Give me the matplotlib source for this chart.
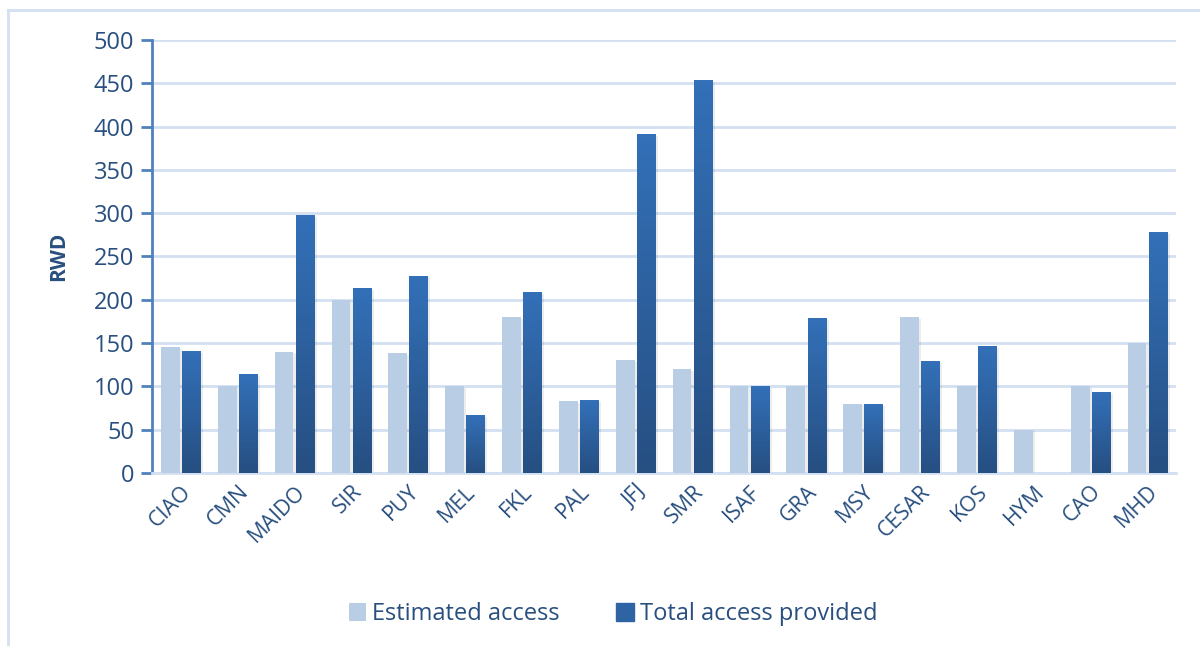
import matplotlib.pyplot as plt
import numpy as np
from matplotlib.patches import Rectangle
from matplotlib.lines import Line2D
from matplotlib.colors import LinearSegmentedColormap

stations = ['CIAO', 'CMN', 'MAIDO', 'SIR', 'PUY', 'MEL', 'FKL', 'PAL', 'JFJ',
            'SMR', 'ISAF', 'GRA', 'MSY', 'CESAR', 'KOS', 'HYM', 'CAO', 'MHD']
estimated = [145, 100, 140, 200, 138, 100, 180, 83, 130,
             120, 100, 100, 80, 180, 100, 50, 100, 150]
total = [141, 114, 298, 213, 228, 67, 209, 84, 391,
         454, 100, 179, 79, 129, 146, 0, 93, 278]

txt = '#284F7F'
plt.rcParams['font.family'] = ['Open Sans', 'DejaVu Sans']

fig = plt.figure(figsize=(12, 6.46), dpi=100)
ax = fig.add_axes([0.127, 0.268, 0.853, 0.67])

x = np.arange(len(stations))
w = 0.33
off = 0.185

dark = LinearSegmentedColormap.from_list('d', ['#264F82', '#3370B8'])
grad = np.linspace(0, 1, 64).reshape(-1, 1)

# light bars
b1 = ax.bar(x - off, estimated, w, color='#B9CDE5', zorder=3, label='Estimated access')
# dark bars, gradient filled
b2 = ax.bar(x + off, total, w, color='#2E63A4', zorder=3, label='Total access provided')
for r in b2:
    h = r.get_height()
    if h <= 0:
        continue
    x0 = r.get_x()
    im = ax.imshow(grad, cmap=dark, aspect='auto', origin='lower',
                   extent=[x0, x0 + w, 0, h], zorder=4)
    im.set_clip_path(r)
# faint shadows
for r in list(b1) + list(b2):
    h = r.get_height()
    if h <= 0:
        continue
    ax.add_patch(Rectangle((r.get_x() + 0.04, 0), w, h - 2, color='#000000',
                           alpha=0.07, zorder=2, lw=0))

ax.set_xlim(-0.5, len(stations) - 0.5)
ax.set_ylim(0, 500)
ax.set_yticks(range(0, 501, 50))
ax.yaxis.grid(True, color='#D3E0F1', lw=2, zorder=0)
ax.set_axisbelow(True)
for s in ['top', 'right']:
    ax.spines[s].set_visible(False)
ax.spines['left'].set_color('#4F81BD')
ax.spines['left'].set_linewidth(2)
ax.spines['bottom'].set_color('#D3E0F1')
ax.spines['bottom'].set_linewidth(2)
ax.tick_params(axis='y', colors='#4F81BD', length=8, width=2, labelcolor=txt, labelsize=17, pad=5)
ax.tick_params(axis='x', length=0, labelcolor=txt, labelsize=15.5, pad=6)
ax.set_xticks(x)
ax.set_xticklabels(stations, rotation=45, ha='right', rotation_mode='anchor')
ax.set_ylabel('RWD', color=txt, fontsize=15, fontweight='bold', labelpad=18)

leg = ax.legend(loc='upper center', bbox_to_anchor=(0.45, -0.25), ncol=2, frameon=False,
                fontsize=17, handlelength=0.75, handleheight=0.75, columnspacing=2.4,
                handletextpad=0.25)
for t in leg.get_texts():
    t.set_color(txt)
leg.legend_handles[1].set_color('#2E63A4')

# chart area border (only top and left visible)
fig.lines.append(Line2D([0.007, 1.0], [0.985, 0.985], transform=fig.transFigure,
                        color='#D3E0F1', lw=2))
fig.lines.append(Line2D([0.007, 0.007], [0.0, 0.985], transform=fig.transFigure,
                        color='#D3E0F1', lw=2))

fig.savefig('out.png', dpi=100)
